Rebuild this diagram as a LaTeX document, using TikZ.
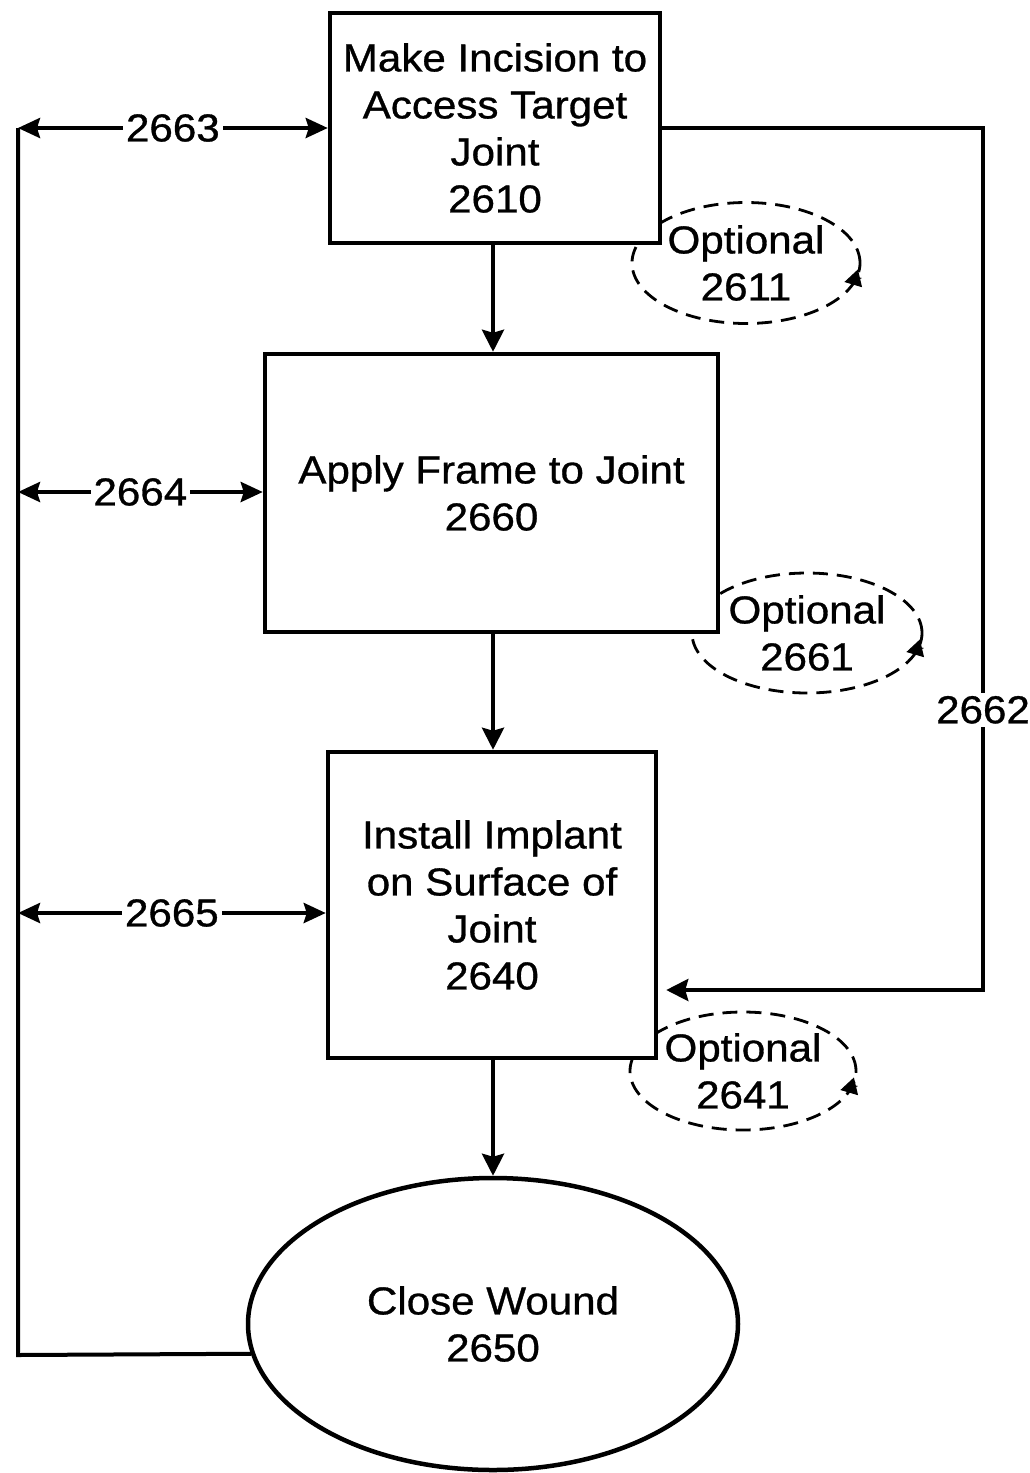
\documentclass[tikz,border=0pt]{standalone}
\usepackage{fontspec}
\setmainfont{Liberation Sans}[FakeStretch=1.08,FakeBold=0.8]
\usetikzlibrary{arrows.meta,shapes.geometric}
\begin{document}
\begin{tikzpicture}[x=1pt,y=-1pt,
  every node/.style={font=\fontsize{39}{47}\selectfont},
  stepbox/.style={draw,line width=4.5pt,fill=white,rectangle,inner sep=0pt,align=center},
  endoval/.style={draw,line width=4.5pt,fill=white,ellipse,inner sep=0pt,align=center},
  optloop/.style={draw,dashed,dash pattern=on 15pt off 9pt,line width=2.8pt,ellipse,inner sep=0pt,align=center},
  conn/.style={line width=4pt,-{Stealth[length=22pt,width=22pt,inset=3pt]}},
  dconn/.style={line width=4pt,{Stealth[length=22pt,width=20pt,inset=3pt]}-{Stealth[length=22pt,width=20pt,inset=3pt]}},
  plain/.style={line width=4pt},
  loopTip/.style={line width=1pt,-{Triangle[length=16pt,width=18pt]}},
  lbl/.style={fill=white,inner sep=3pt}]
\useasboundingbox (0,0) rectangle (1030,1473);
% optional loops
\node[optloop,minimum width=228pt,minimum height=121pt] (o1) at (746,263) {Optional\\2611};
\node[optloop,minimum width=230pt,minimum height=120pt] (o2) at (807,633) {Optional\\2661};
\node[optloop,minimum width=226pt,minimum height=118pt] (o3) at (743,1071) {Optional\\2641};
\draw[loopTip] ([shift={(0,15)}]o1.east) -- ([shift={(-17,19)}]o1.east);
\draw[loopTip] ([shift={(0,15)}]o2.east) -- ([shift={(-17,19)}]o2.east);
\draw[loopTip] ([shift={(0,15)}]o3.east) -- ([shift={(-17,19)}]o3.east);
% steps
\node[stepbox,minimum width=330pt,minimum height=230pt] (b1) at (495,128) {Make Incision to\\Access Target\\Joint\\2610};
\node[stepbox,minimum width=453pt,minimum height=278pt] (b2) at (491.5,493) {Apply Frame to Joint\\2660};
\node[stepbox,minimum width=328pt,minimum height=306pt] (b3) at (492,905) {Install Implant\\on Surface of\\Joint\\2640};
\node[endoval,minimum width=490pt,minimum height=292pt] (e4) at (493,1324) {Close Wound\\2650};
% main flow
\draw[conn] (b1.south -| 493,0) -- (b2.north -| 493,0);
\draw[conn] (b2.south -| 493,0) -- (b3.north -| 493,0);
\draw[conn] (b3.south -| 493,0) -- (e4.north);
% left return line
\coordinate (Lt) at (18,128);
\coordinate (Lm) at (18,492);
\coordinate (Ln) at (18,913);
\coordinate (Lb) at (18,1355);
\draw[plain,line join=miter] (e4.187) -- (Lb) -- (Lt);
\draw[dconn] (Lt) -- node[lbl]{2663} (b1.west);
\draw[dconn] (Lm) -- node[lbl]{2664} (Lm -| b2.west);
\draw[dconn] (Ln) -- node[lbl]{2665} (Ln -| b3.west);
% right bypass
\coordinate (R1) at (983,128);
\coordinate (R2) at (983,990);
\draw[conn,line join=miter] (b1.east) -- (R1) -- node[lbl,pos=0.675]{2662} (R2) -- ([xshift=8pt]R2 -| b3.east);
\end{tikzpicture}
\end{document}
